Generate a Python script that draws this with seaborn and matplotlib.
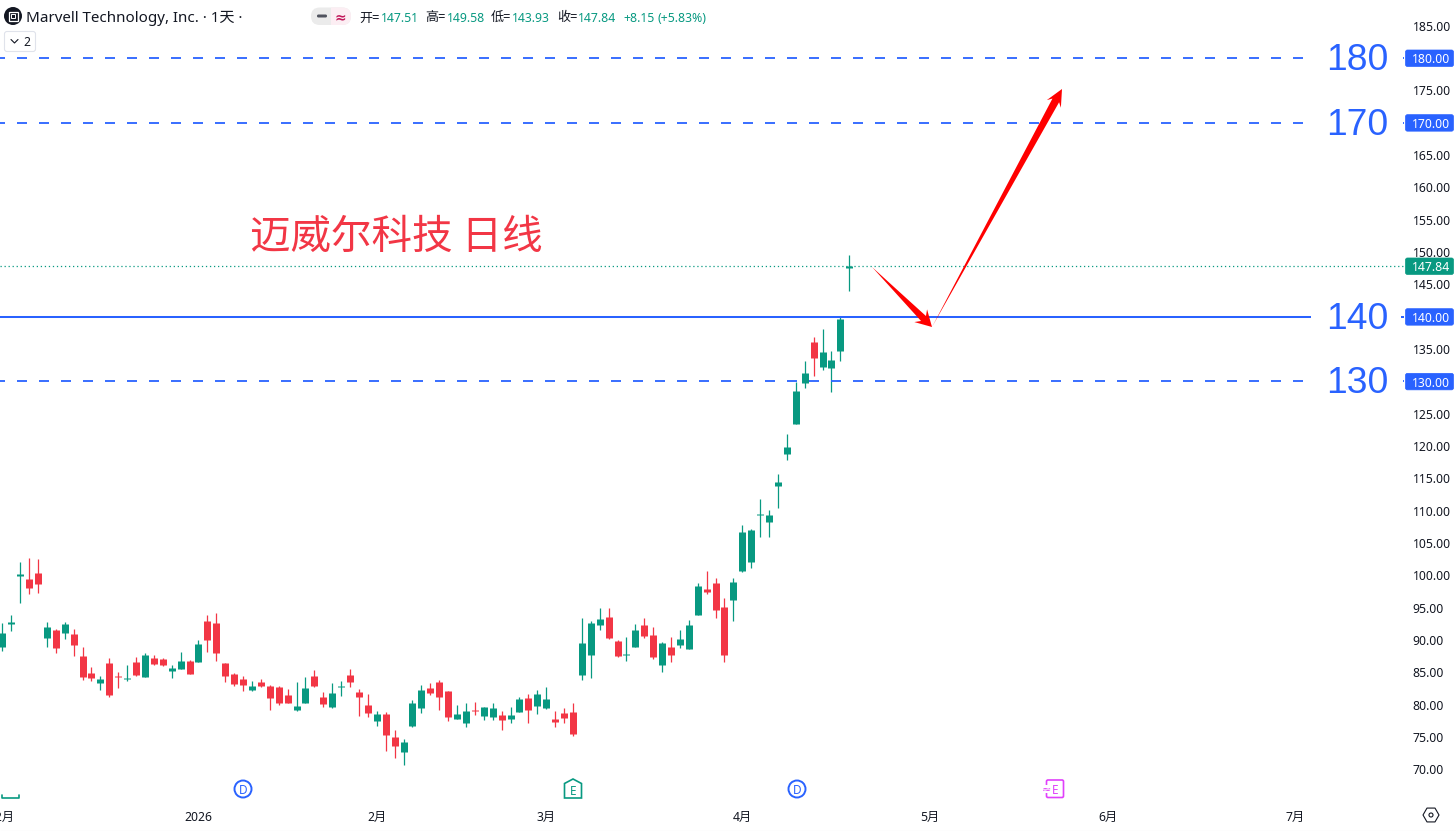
"""Marvell daily candles with hand drawn levels and arrows."""

import matplotlib

matplotlib.use("Agg")

import matplotlib.pyplot as plt
import numpy as np
import pandas as pd
import seaborn as sns
from matplotlib.patches import Circle, FancyBboxPatch, Polygon, RegularPolygon, Rectangle

opens = [88.92, 92.48, 99.90, 99.44, 100.37, 90.31, 91.55, 91.09, 90.93, 87.53, 84.90, 83.36,
         86.45, 84.44, 83.97, 86.60, 84.28, 87.22, 87.07, 85.21, 85.52, 86.76, 86.60, 92.94,
         92.63, 86.45, 84.75, 83.97, 82.27, 83.51, 82.89, 82.74, 81.50, 79.18, 80.26, 84.44,
         81.19, 79.65, 82.74, 84.59, 81.97, 79.96, 77.48, 78.56, 75.01, 72.69, 76.71, 79.49,
         82.58, 83.51, 82.12, 77.79, 77.17, 79.18, 78.25, 78.10, 78.41, 77.79, 78.87, 81.04,
         79.80, 79.49, 77.79, 78.72, 78.87, 84.59, 87.69, 92.33, 93.56, 89.85, 87.69, 88.92,
         92.33, 90.78, 86.14, 88.92, 89.23, 88.61, 93.87, 97.89, 98.82, 95.11, 96.19, 100.68,
         102.07, 109.34, 108.25, 113.82, 118.76, 123.40, 129.75, 136.09, 132.22, 132.06, 134.69, 147.51]
highs = [92.58, 93.87, 102.07, 102.69, 102.53, 92.79, 91.71, 92.79, 91.71, 88.92, 85.83, 84.44,
         87.22, 85.06, 86.14, 87.38, 87.99, 87.69, 87.22, 86.14, 88.15, 86.91, 90.01, 93.87,
         94.18, 86.45, 84.90, 84.44, 83.66, 83.97, 83.05, 82.89, 82.43, 83.51, 84.29, 85.37,
         81.97, 83.36, 83.67, 85.52, 82.43, 81.66, 79.03, 78.87, 76.09, 74.70, 80.73, 83.05,
         83.36, 83.82, 82.12, 79.96, 80.26, 80.42, 79.65, 80.26, 79.03, 79.65, 81.19, 81.66,
         82.28, 82.74, 79.03, 79.49, 80.26, 93.41, 92.94, 94.95, 94.95, 90.01, 90.47, 92.48,
         93.41, 92.02, 89.70, 90.47, 91.55, 93.10, 98.82, 100.68, 99.59, 96.50, 99.59, 107.79,
         107.17, 111.81, 110.11, 115.67, 121.86, 129.90, 133.15, 136.86, 138.10, 134.69, 139.95, 149.58]
lows = [88.31, 91.40, 95.73, 97.12, 97.27, 88.92, 87.99, 90.16, 87.53, 83.82, 83.66, 82.27,
        81.19, 82.58, 83.66, 84.44, 84.28, 86.14, 85.98, 84.13, 85.52, 84.75, 86.60, 88.15,
        86.76, 83.51, 82.89, 82.12, 82.12, 82.74, 79.18, 79.95, 80.26, 79.02, 80.26, 82.74,
        79.65, 79.49, 81.35, 82.74, 78.25, 78.10, 76.71, 72.84, 71.76, 70.68, 76.55, 78.72,
        81.50, 79.18, 77.48, 77.79, 76.55, 78.41, 77.64, 77.64, 76.09, 77.17, 78.87, 77.17,
        78.56, 79.34, 76.55, 77.17, 75.16, 83.82, 84.13, 91.55, 90.16, 87.38, 86.76, 88.92,
        90.32, 87.07, 85.06, 86.60, 88.77, 88.61, 93.87, 97.12, 93.41, 86.60, 92.94, 100.52,
        101.14, 105.93, 105.93, 110.41, 117.84, 123.40, 128.97, 130.83, 131.76, 128.35, 133.15, 143.93]
closes = [91.09, 92.79, 100.21, 98.05, 98.67, 92.02, 88.77, 92.48, 89.23, 84.28, 84.13, 83.97,
          81.50, 84.28, 84.13, 84.59, 87.69, 86.29, 86.14, 85.67, 86.76, 84.75, 89.39, 90.01,
          87.99, 84.44, 83.20, 83.05, 82.89, 82.89, 81.04, 80.26, 80.26, 79.80, 82.58, 82.89,
          80.11, 81.81, 82.89, 83.51, 81.19, 78.72, 78.56, 75.32, 73.61, 74.23, 80.26, 82.28,
          81.81, 81.19, 78.10, 78.56, 79.03, 79.03, 79.65, 79.49, 77.64, 78.41, 80.88, 79.18,
          81.66, 80.88, 77.33, 77.94, 75.47, 89.54, 92.64, 93.25, 90.32, 87.53, 87.84, 91.55,
          90.62, 87.38, 89.54, 87.69, 90.16, 92.33, 98.36, 97.43, 94.65, 87.69, 98.98, 106.71,
          107.02, 109.49, 109.34, 114.43, 119.85, 128.51, 131.29, 133.61, 134.54, 133.30, 139.64, 147.84]

solid_level = 140
dashed_levels = [130, 170, 180]
last_price = 147.84
price_ticks = [70, 75, 80, 85, 90, 95, 100, 105, 110, 115, 120, 125, 135, 145, 150, 155, 160, 165, 175, 185]
month_ticks = [0, 22, 42, 61, 83, 104, 124, 145]
month_labels = ["12月", "2026", "2月", "3月", "4月", "5月", "6月", "7月"]
ohlc_labels = ["开=", "高=", "低=", "收="]
ohlc_values = ["147.51", "149.58", "143.93", "147.84"]

BLUE = "#2962FF"
TEAL = "#089981"
RED = "#F23645"
INK = "#131722"
W, H = 1456, 831
AX_RIGHT, AX_BOTTOM = 1404, 800
Y180, PX_PER_USD = 58, 6.467
X0, PX_PER_BAR = 2.3, 8.916

sns.set_theme(style="white")
plt.rcParams["font.family"] = ["Noto Sans", "Noto Sans CJK SC", "DejaVu Sans"]
plt.rcParams["lines.scale_dashes"] = False


def price_y(p):
    return Y180 + (180 - p) * PX_PER_USD


def draw_arrow(ov, tail, tip, head_len, neck_len, head_hw, neck_hw):
    tail, tip = np.array(tail, float), np.array(tip, float)
    u = (tip - tail) / np.linalg.norm(tip - tail)
    n = np.array([-u[1], u[0]])
    pts = [tail,
           tip - u * neck_len + n * neck_hw,
           tip - u * head_len + n * head_hw,
           tip,
           tip - u * head_len - n * head_hw,
           tip - u * neck_len - n * neck_hw]
    ov.add_patch(Polygon(pts, closed=True, fc="#FF0000", ec="none", zorder=6))


def draw_candles(ax):
    n = len(opens)
    idx = np.arange(n)
    up = np.array(closes) >= np.array(opens)
    direction = np.where(up, "up", "down")
    palette = {"up": TEAL, "down": RED}

    wicks = pd.DataFrame({"i": np.r_[idx, idx], "price": highs + lows, "dir": np.r_[direction, direction]})
    bodies = pd.DataFrame({"i": np.r_[idx, idx], "price": opens + closes, "dir": np.r_[direction, direction]})

    sns.lineplot(data=wicks, x="i", y="price", units="i", hue="dir", palette=palette, estimator=None,
                 linewidth=0.9, legend=False, ax=ax, solid_capstyle="butt")
    sns.lineplot(data=bodies, x="i", y="price", units="i", hue="dir", palette=palette, estimator=None,
                 linewidth=5.04, legend=False, ax=ax, solid_capstyle="butt")


def draw_levels(ax, ov):
    ax.axhline(solid_level, color=BLUE, linewidth=1.45, zorder=4)
    for lv in dashed_levels:
        ax.axhline(lv, color=BLUE, linewidth=1.3, linestyle=(3.6, (7.2, 8.64)), zorder=4)
    ax.axhline(last_price, color=TEAL, linewidth=0.9, linestyle=(0, (0.9, 2.0)), zorder=4)

    for lv in [solid_level] + dashed_levels:
        y = price_y(lv)
        ov.add_patch(Rectangle((1311, y - 22), 90, 44, fc="white", ec="none", zorder=4))
        ov.text(1357, y - 1.5, str(lv), family="Liberation Sans", fontsize=26.8, color=BLUE,
                ha="center", va="center_baseline", zorder=5)
    for lv, col, lab in [(130, BLUE, "130.00"), (140, BLUE, "140.00"), (170, BLUE, "170.00"),
                         (180, BLUE, "180.00"), (last_price, TEAL, f"{last_price:.2f}")]:
        y = price_y(lv)
        ov.add_patch(FancyBboxPatch((1405.5, y - 8), 48, 16.5, boxstyle="round,pad=0,rounding_size=2",
                                    fc=col, ec=col, lw=0.5, zorder=6))
        ov.text(1431, y + 0.3, lab, color="white", fontsize=8.8, ha="center", va="center_baseline",
                fontweight="semibold", zorder=7)


def draw_header(ov):
    ov.add_patch(Circle((13, 16), 9, fc="#131722", ec="none"))
    ov.add_patch(Rectangle((8.5, 11.5), 9, 9, fc="none", ec="white", lw=0.9))
    ov.add_patch(Rectangle((11, 14), 4, 4, fc="none", ec="white", lw=0.7))
    ov.text(26, 16.5, "Marvell Technology, Inc. · 1天 ·", fontsize=10.9, color=INK, ha="left", va="center_baseline")

    ov.add_patch(FancyBboxPatch((311, 7.5), 40, 17.5, boxstyle="round,pad=0,rounding_size=8.7",
                                fc="#EBEBEB", ec="none"))
    pink = FancyBboxPatch((311, 7.5), 40, 17.5, boxstyle="round,pad=0,rounding_size=8.7", fc="#FCEEF3", ec="none")
    ov.add_patch(pink)
    pink.set_clip_path(Rectangle((331, 0), 30, 40, transform=ov.transData))
    ov.add_patch(FancyBboxPatch((317, 14.5), 10, 3, boxstyle="round,pad=0,rounding_size=1.4", fc="#50535E", ec="none"))
    ov.text(340, 16, "≈", fontsize=10, color="#C2185B", fontweight="bold", ha="center", va="center_baseline",
            family="DejaVu Sans")

    for x_l, x_v, lab, val in zip([359, 425, 491, 557], [381, 447, 512, 578], ohlc_labels, ohlc_values):
        ov.text(x_l, 16.5, lab, fontsize=9.4, color=INK, ha="left", va="center_baseline")
        ov.text(x_v, 16.5, val, fontsize=8.8, color=TEAL, ha="left", va="center_baseline")
    ov.text(623, 16.5, "+8.15", fontsize=8.8, color=TEAL, ha="left", va="center_baseline")
    ov.text(658, 16.5, "(+5.83%)", fontsize=8.8, color=TEAL, ha="left", va="center_baseline")

    ov.add_patch(FancyBboxPatch((4.5, 31.5), 31, 20, boxstyle="round,pad=0,rounding_size=2.5",
                                fc="white", ec="#E0E3EB", lw=0.8))
    ov.plot([11, 14.5, 18], [39.5, 43, 39.5], color=INK, lw=0.8)
    ov.text(27, 41.5, "2", fontsize=8.8, color=INK, ha="center", va="center_baseline")


def draw_markers(ov):
    for cx in [243, 797]:
        ov.add_patch(Circle((cx, 789), 8.5, fc="white", ec=BLUE, lw=1.4))
        ov.text(cx, 789, "D", fontsize=8.5, color=BLUE, ha="center", va="center_baseline", fontweight="medium")

    house = [(564.5, 783.5), (573, 779), (581.5, 783.5), (581.5, 798), (564.5, 798)]
    ov.add_patch(Polygon(house, closed=True, fc="white", ec=TEAL, lw=1.2))
    ov.text(573, 790, "E", fontsize=8.5, color=TEAL, ha="center", va="center_baseline", fontweight="medium")
    ov.plot([2, 2, 19, 19], [795, 798, 798, 795], color=TEAL, lw=1.2)

    ov.add_patch(FancyBboxPatch((1046.5, 780), 17, 17.5, boxstyle="round,pad=0,rounding_size=1.5",
                                fc="white", ec="#E040FB", lw=1.2))
    ov.add_patch(Rectangle((1043, 785), 6, 8, fc="white", ec="none"))
    ov.text(1046.5, 789, "≈", fontsize=8, color="#E040FB", ha="center", va="center_baseline", family="DejaVu Sans")
    ov.text(1055.5, 789, "E", fontsize=8.5, color="#E040FB", ha="center", va="center_baseline", fontweight="medium")

    ov.add_patch(RegularPolygon((1431, 815), 6, radius=8, orientation=np.pi / 2, fc="none", ec=INK, lw=0.8))
    ov.add_patch(Circle((1431, 815), 2, fc="none", ec=INK, lw=0.8))
    ov.plot([0, W], [830.5, 830.5], color="#E0E3EB", lw=0.8)


def main():
    fig = plt.figure(figsize=(W / 100, H / 100), dpi=100, facecolor="white")
    ax = fig.add_axes([0, (H - AX_BOTTOM) / H, AX_RIGHT / W, AX_BOTTOM / H])
    ov = fig.add_axes([0, 0, 1, 1], zorder=5)
    ov.set_xlim(0, W)
    ov.set_ylim(H, 0)
    ov.axis("off")
    ov.patch.set_alpha(0)

    draw_candles(ax)

    ax.set_xlim(-X0 / PX_PER_BAR, (AX_RIGHT - X0) / PX_PER_BAR)
    ax.set_ylim(180 - (AX_BOTTOM - Y180) / PX_PER_USD, 180 + Y180 / PX_PER_USD)
    sns.despine(ax=ax, left=True, bottom=True)
    ax.set_xlabel("")
    ax.set_ylabel("")

    ax.yaxis.tick_right()
    ax.set_yticks(price_ticks, [f"{p:.2f}" for p in price_ticks])
    ax.tick_params(axis="y", length=0, pad=6.3, labelsize=8.8, labelcolor=INK)
    ax.set_xticks(month_ticks, month_labels)
    ax.tick_params(axis="x", length=0, pad=8, labelsize=8.8, labelcolor=INK)
    ax.get_xticklabels()[1].set_fontweight("bold")

    draw_levels(ax, ov)
    ov.text(250, 232.5, "迈威尔科技 日线", fontsize=29.2, color=RED, ha="left", va="center_baseline",
            family="Noto Sans CJK SC")
    draw_arrow(ov, (872, 267), (932, 327), 16, 12, 9, 3.5)
    draw_arrow(ov, (932, 327), (1062, 89), 17, 13, 8, 3.8)
    draw_header(ov)
    draw_markers(ov)

    fig.savefig("out.png", dpi=100)
    plt.close(fig)


if __name__ == "__main__":
    main()
